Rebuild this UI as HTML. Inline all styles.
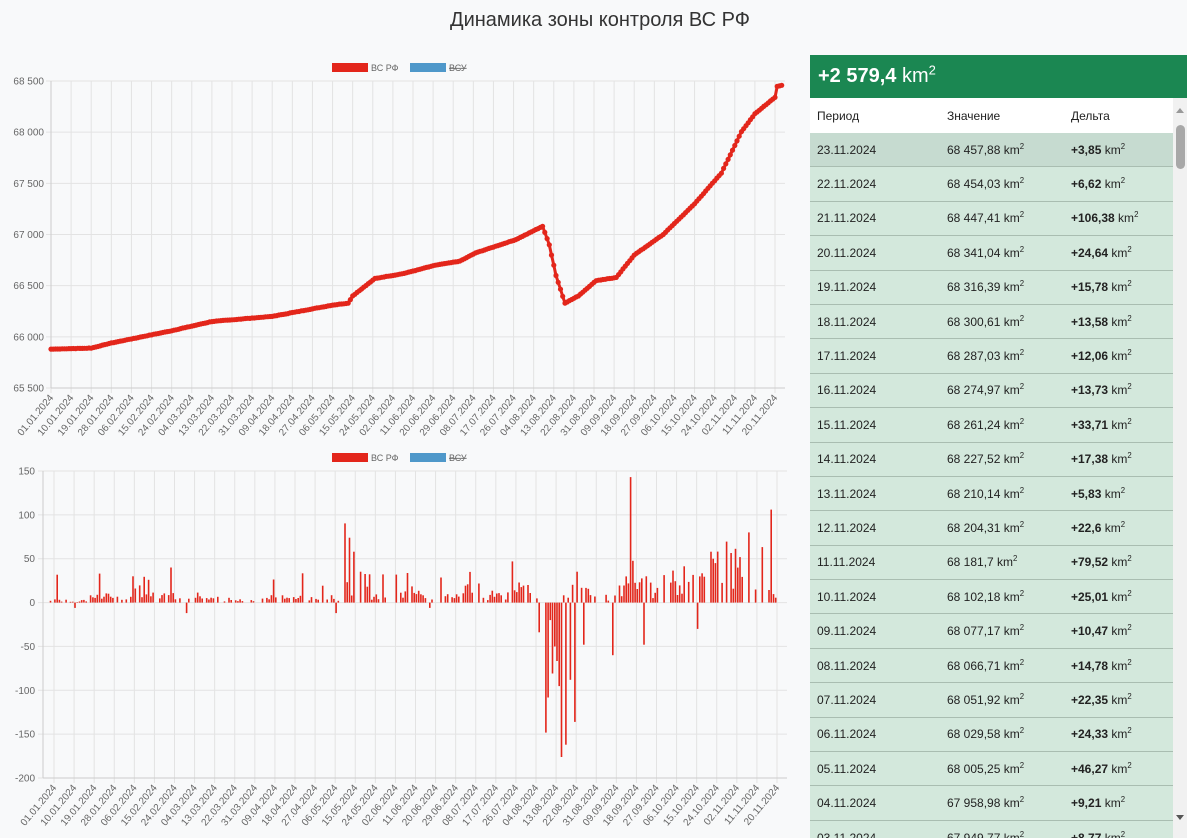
<!DOCTYPE html>
<html><head><meta charset="utf-8">
<style>
body{margin:0;width:1187px;height:838px;background:#f8f9fa;font-family:"Liberation Sans",sans-serif;overflow:hidden;position:relative}
h1{position:absolute;top:9px;left:0;width:1200px;text-align:center;margin:0;font-weight:normal;font-size:20px;color:#333}
#panel{position:absolute;left:810px;top:55px;width:377px;height:783px;overflow:hidden}
.head{background:#1b8752;color:#fff;height:43px;font-size:20px;line-height:43px;padding-left:8px;font-weight:bold}
.head span{font-weight:normal}
sup{font-size:65%;line-height:0}
table{border-collapse:collapse;width:363px;font-size:12px;color:#222}
th{text-align:left;font-weight:normal;height:33px;background:#fff;padding-left:7px}
td{height:33.4px;padding:0 0 0 7px;border-bottom:1px solid #a9bdb1;background:#d3e8dc}
tr:nth-child(2) td{background:#c6dbd0}
.sb{position:absolute;right:0;top:43px;width:14px;height:740px;background:#f1f1f1}
.sb .t{position:absolute;left:3px;top:27px;width:9px;height:44px;background:#a8a8a8;border-radius:5px}
</style></head><body>
<h1>Динамика зоны контроля ВС РФ</h1>
<svg id="c" width="800" height="838" style="position:absolute;left:0;top:0"></svg>
<div id="panel"><div class="head">+2 579,4 <span>km<sup>2</sup></span></div>
<table id="tb"><tr><th style="width:122px">Период</th><th style="width:116px">Значение</th><th>Дельта</th></tr></table>
<div class="sb"><div class="t"></div><div style="position:absolute;left:3px;top:10px;border:4px solid transparent;border-bottom:5px solid #999;border-top:0"></div><div style="position:absolute;left:3px;bottom:18px;border:4px solid transparent;border-top:5px solid #555;border-bottom:0"></div></div>
</div>
<script>
var rows=[["23.11.2024","68 457,88","+3,85"],["22.11.2024","68 454,03","+6,62"],["21.11.2024","68 447,41","+106,38"],["20.11.2024","68 341,04","+24,64"],["19.11.2024","68 316,39","+15,78"],["18.11.2024","68 300,61","+13,58"],["17.11.2024","68 287,03","+12,06"],["16.11.2024","68 274,97","+13,73"],["15.11.2024","68 261,24","+33,71"],["14.11.2024","68 227,52","+17,38"],["13.11.2024","68 210,14","+5,83"],["12.11.2024","68 204,31","+22,6"],["11.11.2024","68 181,7","+79,52"],["10.11.2024","68 102,18","+25,01"],["09.11.2024","68 077,17","+10,47"],["08.11.2024","68 066,71","+14,78"],["07.11.2024","68 051,92","+22,35"],["06.11.2024","68 029,58","+24,33"],["05.11.2024","68 005,25","+46,27"],["04.11.2024","67 958,98","+9,21"],["03.11.2024","67 949,77","+8,77"]];
var tb=document.getElementById('tb');
rows.forEach(function(r){var tr=document.createElement('tr');tr.innerHTML='<td>'+r[0]+'</td><td>'+r[1]+' km<sup>2</sup></td><td><b>'+r[2]+'</b> km<sup>2</sup></td>';tb.appendChild(tr);});
var kp=[[0,65880],[18,65890],[27,65940],[36,65980],[54,66060],[72,66150],[99,66200],[126,66310],[133,66330],[135,66400],[145,66570],[158,66620],[172,66700],[183,66740],[190,66820],[208,66950],[220,67080],[223,66900],[226,66600],[230,66330],[236,66400],[244,66550],[253,66580],[261,66800],[274,67000],[288,67300],[300,67600],[309,68005],[315,68180],[324,68341],[325,68447],[327,68458]];
function interp(d){for(var i=1;i<kp.length;i++){if(d<=kp[i][0]){var a=kp[i-1],b=kp[i];return a[1]+(b[1]-a[1])*(d-a[0])/(b[0]-a[0]);}}return kp[kp.length-1][1];}
var s=7;function rnd(){s=(s*9301+49297)%233280;return s/233280;}
var N=328,v=[];for(var d=0;d<N;d++){var q=interp(d);v.push(d>0&&d<N-3?q+Math.round((rnd()-0.5)*3):q);}
var dl=[0];
for(d=1;d<N;d++){var g=interp(d)-interp(d-1),x;
 if(g<0){x=g*(0.3+rnd()*1.2);}
 else{var r=rnd();x=r<0.3?0:g*(0.2+rnd()*1.8)+rnd()*3; if(rnd()<0.05)x+=15+rnd()*20;}
 dl.push(x);}
var sp={24:33,13:-6,40:16,56:40,63:-12,136:74,138:58,130:-12,172:-6,231:-176,233:-162,235:-88,237:-136,241:-48,226:-20,228:-50,262:143,254:-60,268:-48,292:-30,325:106,315:80,298:58,190:35,222:0,223:0};
for(var k in sp)dl[k]=sp[k];
var o='',svg=document.getElementById('c');
function T(x,y,t,a){return '<text x="'+x+'" y="'+y+'" font-size="10" fill="#666" '+(a||'')+'>'+t+'</text>';}
function dstr(d){var dt=new Date(2024,0,1+d);return ('0'+dt.getDate()).slice(-2)+'.'+('0'+(dt.getMonth()+1)).slice(-2)+'.'+dt.getFullYear();}
var L=51,R=785,Y0=81,Y1=388,px=(775-51)/324;
var labs=['68 500','68 000','67 500','67 000','66 500','66 000','65 500'];
for(var i=0;i<=6;i++){var y=Y0+i*(Y1-Y0)/6;o+='<line x1="'+(L-5)+'" x2="'+R+'" y1="'+y+'" y2="'+y+'" stroke="#e3e3e3"/>';o+=T(L-7,y+3.5,labs[i],'text-anchor="end"');}
for(d=0;d<=324;d+=9){var x=L+d*px;o+='<line x1="'+x+'" x2="'+x+'" y1="'+Y0+'" y2="'+(Y1+5)+'" stroke="#e3e3e3"/>';o+=T(x+3,Y1+10,dstr(d),'text-anchor="end" transform="rotate(-50 '+(x+3)+' '+(Y1+10)+')"');}
o+='<line x1="'+L+'" x2="'+L+'" y1="'+Y0+'" y2="'+Y1+'" stroke="#ccc"/><line x1="'+L+'" x2="'+R+'" y1="'+Y1+'" y2="'+Y1+'" stroke="#ccc"/>';
var p='',c='';for(d=0;d<N;d++){var x=L+d*px,y=Y1-(v[d]-65500)*(Y1-Y0)/3000;p+=(d?'L':'M')+x.toFixed(1)+' '+y.toFixed(1);c+='<circle cx="'+x.toFixed(1)+'" cy="'+y.toFixed(1)+'" r="2.6" fill="#e3261b"/>';}
o+='<path d="'+p+'" stroke="#e3261b" stroke-width="3" fill="none"/>'+c;
function leg(y){return '<rect x="332" y="'+(y-4)+'" width="36" height="9" fill="#e3261b"/><text x="371" y="'+(y+4)+'" font-size="9" fill="#666">ВС РФ</text><rect x="410" y="'+(y-4)+'" width="36" height="9" fill="#4f98ca"/><text x="449" y="'+(y+4)+'" font-size="9" fill="#666" text-decoration="line-through">ВСУ</text>';}
o+=leg(67)+leg(457);
var L2=43,R2=787,B0=471,B1=778,st=(B1-B0)/350,px2=(777-54)/324,z=B0+150*st;
for(i=0;i<=7;i++){var y=B0+i*(B1-B0)/7;o+='<line x1="'+(L2-5)+'" x2="'+R2+'" y1="'+y+'" y2="'+y+'" stroke="#e3e3e3"/>';o+=T(L2-8,y+3.5,String(150-i*50),'text-anchor="end"');}
for(d=0;d<=324;d+=9){var x=54+d*px2;o+='<line x1="'+x+'" x2="'+x+'" y1="'+B0+'" y2="'+(B1+5)+'" stroke="#e3e3e3"/>';o+=T(x+3,B1+10,dstr(d),'text-anchor="end" transform="rotate(-50 '+(x+3)+' '+(B1+10)+')"');}
o+='<line x1="'+L2+'" x2="'+L2+'" y1="'+B0+'" y2="'+B1+'" stroke="#ccc"/><line x1="'+L2+'" x2="'+R2+'" y1="'+B1+'" y2="'+B1+'" stroke="#ccc"/>';
for(d=1;d<N;d++){var x=46+d*px2,h=dl[d]*st;o+='<rect x="'+(x-0.8).toFixed(1)+'" y="'+(h>0?z-h:z).toFixed(1)+'" width="1.6" height="'+Math.abs(h).toFixed(1)+'" fill="#e3261b"/>';}
svg.innerHTML=o;
</script>
</body></html>
